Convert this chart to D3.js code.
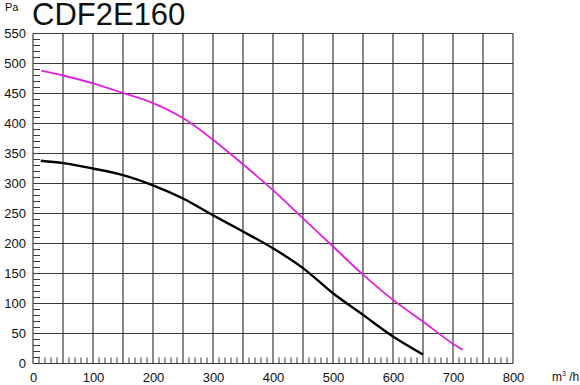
<!DOCTYPE html>
<html>
<head>
<meta charset="utf-8">
<script src="https://cdn.jsdelivr.net/npm/d3@7"></script>
<style>
  body { margin: 0; background: #fff; }
  text { font-family: "Liberation Sans", Arial, sans-serif; fill: #111; }
</style>
</head>
<body>
<div id="chart"></div>
<script>
// curve data (flow m3/h, pressure Pa)
const flowHigh = [14, 50, 100, 150, 200, 250, 300, 350, 400, 450, 500, 550, 600, 650, 700, 716];
const pressHigh = [488, 480, 467, 451, 434, 409, 373, 332, 289, 242, 195, 148, 106, 70, 33, 23];
const flowLow = [13, 50, 100, 150, 200, 250, 300, 350, 400, 450, 500, 550, 600, 650];
const pressLow = [338, 334, 325, 314, 297, 275, 247, 220, 192, 159, 117, 81, 45, 15];

const xTicks = [0, 100, 200, 300, 400, 500, 600, 700, 800];
const yTicks = [0, 50, 100, 150, 200, 250, 300, 350, 400, 450, 500, 550];

const W = 580, H = 385;
const margin = {top: 33.5, right: 67, bottom: 21.5, left: 33};
const width = W - margin.left - margin.right,
      height = H - margin.top - margin.bottom;

const svg = d3.select("#chart").append("svg")
    .attr("width", W).attr("height", H);

const g = svg.append("g")
    .attr("transform", `translate(${margin.left},${margin.top})`);

const x = d3.scaleLinear().domain([0, 800]).range([0, width]);
const y = d3.scaleLinear().domain([0, 550]).range([height, 0]);

// grid every 50
const grid = g.append("g").attr("stroke", "#3a3a3a").attr("stroke-width", 1.2);
grid.selectAll(".vx").data(d3.range(0, 801, 50)).enter().append("line")
    .attr("x1", d => x(d)).attr("x2", d => x(d))
    .attr("y1", 0).attr("y2", height);
grid.selectAll(".hy").data(d3.range(0, 551, 50)).enter().append("line")
    .attr("x1", 0).attr("x2", width)
    .attr("y1", d => y(d)).attr("y2", d => y(d));

// minor ticks every 10, inside the plot
const minor = g.append("g").attr("stroke", "#3a3a3a").attr("stroke-width", 1);
minor.selectAll(".mx").data(d3.range(0, 801, 10).filter(d => d % 50)).enter().append("line")
    .attr("x1", d => x(d)).attr("x2", d => x(d))
    .attr("y1", height).attr("y2", height - 6);
minor.selectAll(".my").data(d3.range(0, 551, 10).filter(d => d % 50)).enter().append("line")
    .attr("x1", 0).attr("x2", 7)
    .attr("y1", d => y(d)).attr("y2", d => y(d));

// axes labels
const xAxis = g.append("g")
    .attr("transform", `translate(0,${height})`)
    .call(d3.axisBottom(x).tickValues(xTicks).tickSize(0).tickPadding(9));
xAxis.select(".domain").remove();
xAxis.selectAll("text").attr("font-size", 13).attr("fill", "#111")
    .attr("font-family", "Liberation Sans, Arial, sans-serif");

const yAxis = g.append("g")
    .call(d3.axisLeft(y).tickValues(yTicks).tickSize(0).tickPadding(7));
yAxis.select(".domain").remove();
yAxis.selectAll("text").attr("font-size", 13).attr("fill", "#111")
    .attr("font-family", "Liberation Sans, Arial, sans-serif");

// curves
const line = d3.line()
    .x(d => x(d[0]))
    .y(d => y(d[1]))
    .curve(d3.curveMonotoneX);

g.append("path")
    .datum(d3.zip(flowHigh, pressHigh))
    .attr("d", line)
    .attr("fill", "none")
    .attr("stroke", "#e020e0")
    .attr("stroke-width", 1.8);

g.append("path")
    .datum(d3.zip(flowLow, pressLow))
    .attr("d", line)
    .attr("fill", "none")
    .attr("stroke", "#000")
    .attr("stroke-width", 2.4);

// titles and units
svg.append("text").attr("x", 32).attr("y", 25)
    .attr("font-size", 31).text("CDF2E160");
svg.append("text").attr("x", 5).attr("y", 11)
    .attr("font-size", 11).text("Pa");
svg.append("text").attr("x", 552).attr("y", 381)
    .attr("font-size", 12)
    .html('m<tspan font-size="7" dy="-5">3</tspan><tspan dy="5"> /h</tspan>');
</script>
</body>
</html>
